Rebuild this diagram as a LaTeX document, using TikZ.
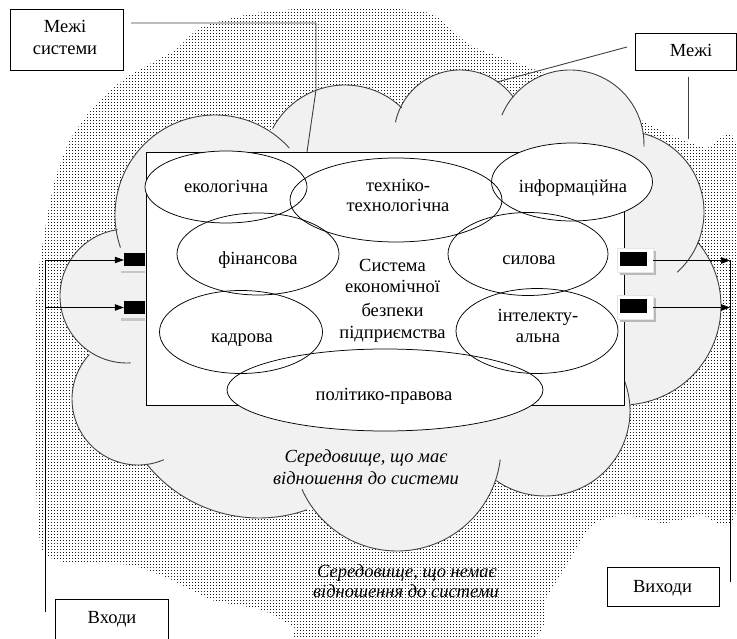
\documentclass[tikz,border=0pt]{standalone}
\usepackage{fontspec}
\setmainfont{Liberation Serif}
\usetikzlibrary{patterns,arrows.meta,shapes.geometric,shadows}
\definecolor{cloudgray}{RGB}{241,241,241}
\definecolor{edgegray}{RGB}{64,64,64}
\pgfdeclarepatternformonly{pxdots}{\pgfpointorigin}{\pgfpoint{3.3pt}{3.3pt}}{\pgfpoint{3.3pt}{3.3pt}}{%
  \pgfpathrectangle{\pgfpointorigin}{\pgfpoint{1.05pt}{1.05pt}}\pgfusepath{fill}}
\begin{document}
\begin{tikzpicture}[x=1pt,y=-1pt,
  t/.style={anchor=base,inner sep=0pt,font=\fontsize{18.5}{22}\selectfont},
  ti/.style={anchor=base,inner sep=0pt,font=\fontsize{18.5}{22}\selectfont\itshape},
  lbl/.style={draw=black,line width=0.9pt,fill=white,inner sep=0pt},
  ell/.style={ellipse,draw=black,line width=0.75pt,inner sep=0pt},
  cloudline/.style={draw=edgegray,line width=0.9pt},
  lead/.style={draw=black!75,line width=0.9pt},
  arr/.style={draw=black,line width=0.7pt,-{Triangle[length=9pt,width=6.5pt]}},
  port/.style={fill=black,inner sep=0pt},
  portframe/.style={fill=white,draw=gray!20,line width=0.6pt,inner sep=0pt,minimum width=36pt,minimum height=24pt,
     drop shadow={shadow xshift=2.5pt,shadow yshift=-2.5pt,fill=gray!55,opacity=1}}
]
\useasboundingbox (0,0) rectangle (737,639);

% outer environment (dotted)
\fill[pattern=pxdots,pattern color=black!90] plot[smooth cycle,tension=0.4] coordinates {
 (310,8) (380,8) (432,14) (470,45) (520,64) (600,95) (655,128) (705,148) (737,152)
 (737,505) (700,515) (663,523) (625,515) (592,525) (570,560) (545,600) (527,639)
 (305,639) (295,628) (262,610) (212,600) (172,580) (130,565) (70,563) (42,550)
 (36,480) (36,300) (45,230) (55,180) (70,140) (95,105) (127,77) (175,50) (200,28) (250,14)};

% cloud fill
\fill[cloudgray]
 ([shift={(170:100)}]215,215) arc[start angle=170,end angle=304,radius=100]
 -- ([shift={(208:82)}]345,167) arc[start angle=208,end angle=314,radius=82]
 -- ([shift={(206:66)}]460,136) arc[start angle=206,end angle=324,radius=66]
 -- ([shift={(219.5:74)}]570,144) arc[start angle=219.5,end angle=350.7,radius=74]
 -- ([shift={(284:81)}]623,212) arc[start angle=284,end angle=382.5,radius=81]
 -- ([shift={(320:99)}]622,306) arc[start angle=320,end angle=445,radius=99]
 -- ([shift={(-3:85)}]545,411) arc[start angle=-3,end angle=125,radius=85]
 -- ([shift={(18:104)}]397,447) arc[start angle=18,end angle=145,radius=104]
 -- ([shift={(70.6:144)}]259,374) arc[start angle=70.6,end angle=141,radius=144]
 -- ([shift={(82:66)}]138,399) arc[start angle=82,end angle=222.5,radius=66]
 -- ([shift={(122:67)}]127,296) arc[start angle=122,end angle=262,radius=67]
 -- cycle;

% cloud outline arcs (with inner hooks)
\foreach \cx/\cy/\r/\a/\b in {215/215/100/161/318, 345/167/82/208/314, 460/136/66/192/324,
  570/144/74/203/362, 623/212/81/284/408, 622/306/99/320/445, 545/411/85/-22/125,
  397/447/104/7/156, 259/374/144/70.6/141, 138/399/66/67/222.5, 127/296/67/87/262}
  \draw[cloudline] ([shift={(\a:\r)}]\cx,\cy) arc[start angle=\a,end angle=\b,radius=\r];

% leader lines
\coordinate (ls0) at (131,23);
\coordinate (ls1) at (307,152);
\draw[lead] (ls0) -- (316,23) -- (316,90) -- (ls1);
\coordinate (lm0) at (627,47);
\coordinate (lm1) at (497,82);
\draw[lead] (lm0) -- (lm1);
\coordinate (lm2) at (688,77);
\coordinate (lm3) at (688,139);
\draw[lead] (lm2) -- (lm3);

% system box
\node[draw=black,line width=0.9pt,fill=white,minimum width=478pt,minimum height=253pt,inner sep=0pt] (sysbox) at (385,278.5) {};

% ellipse fills
\foreach \x/\y/\w/\h in {396/200/212/84, 226/187/162/72, 572/182/161/78, 258/254/162/82,
  528/254/160/83, 241/332/163/83, 537/331/162/85, 385/390/316/82}
  \fill[white] (\x,\y) ellipse[x radius=\w/2,y radius=\h/2];

% ellipse outlines
\node[ell,minimum width=212pt,minimum height=84pt] (tech) at (396,200) {};
\node[ell,minimum width=162pt,minimum height=72pt] (eco) at (226,187) {};
\node[ell,minimum width=161pt,minimum height=78pt] (info) at (572,182) {};
\node[ell,minimum width=162pt,minimum height=82pt] (fin) at (258,254) {};
\node[ell,minimum width=160pt,minimum height=83pt] (sil) at (528,254) {};
\node[ell,minimum width=163pt,minimum height=83pt] (kad) at (241,332) {};
\node[ell,minimum width=162pt,minimum height=85pt] (intl) at (537,331) {};
\node[ell,minimum width=316pt,minimum height=82pt] (pol) at (385,390) {};

% ellipse texts
\node[t] (ecoT) at (226,193) {екологічна};
\node[t] (techT1) at (398,192) {техніко-};
\node[t] (techT2) at (398,212) {технологічна};
\node[t] (infoT) at (573,193) {інформаційна};
\node[t] (finT) at (258,265) {фінансова};
\node[t] (silT) at (529,265) {силова};
\node[t] (kadT) at (242,342) {кадрова};
\node[t] (intT1) at (538,322) {інтелекту-};
\node[t] (intT2) at (538,342) {альна};
\node[t] (polT) at (384,400) {політико-правова};

\node[t] (c1) at (392.5,272) {Система};
\node[t] (c2) at (392.5,293) {економічної};
\node[t] (c3) at (392.5,317) {безпеки};
\node[t] (c4) at (392.5,338) {підприємства};

% input ports
\node[port,minimum width=21pt,minimum height=13pt] (in1) at (134.5,260) {};
\fill[gray!45] (121,271) rectangle (145,273.5);
\node[port,minimum width=21pt,minimum height=13pt] (in2) at (134.5,307.5) {};
\fill[gray!45] (121,318.5) rectangle (145,321);

% output ports
\node[portframe] (out1f) at (635,260.5) {};
\node[port,minimum width=27pt,minimum height=14pt] (out1) at (633.5,259.5) {};
\node[portframe] (out2f) at (635,307.5) {};
\node[port,minimum width=27pt,minimum height=14pt] (out2) at (633.5,306) {};

% arrows
\coordinate (inbot) at (45,612);
\draw[arr] (inbot) |- (in1.west);
\draw[arr] (inbot |- in2.west) -- (in2.west);
\coordinate (outbot) at (730,582);
\draw[arr] (out1f.east) -- (out1f.east -| outbot);
\draw[arr] (out2f.east) -- (out2f.east -| outbot);
\draw[draw=black,line width=0.7pt] (outbot) -- (outbot |- out1f.east);

% label boxes
\node[lbl,minimum width=113pt,minimum height=61pt] (lsys) at (66.5,39.5) {};
\node[t] (lsysT1) at (65,33) {Межі};
\node[t] (lsysT2) at (65,55) {системи};
\node[lbl,minimum width=101.5pt,minimum height=37pt] (lmezhi) at (685.75,51.5) {};
\node[t] (lmezhiT) at (691,57) {Межі};
\node[lbl,minimum width=113pt,minimum height=46pt] (lin) at (111.5,622) {};
\node[t] (linT) at (112,623) {Входи};
\node[lbl,minimum width=112pt,minimum height=39pt] (lout) at (663,586.5) {};
\node[t] (loutT) at (662.5,592) {Виходи};

% environment captions
\node[ti] (env1a) at (366,462) {Середовище, що має};
\node[ti] (env1b) at (366,484) {відношення до системи};
\node[ti] (env2a) at (407,577) {Середовище, що немає};
\node[ti] (env2b) at (406,597) {відношення до системи};
\end{tikzpicture}
\end{document}
